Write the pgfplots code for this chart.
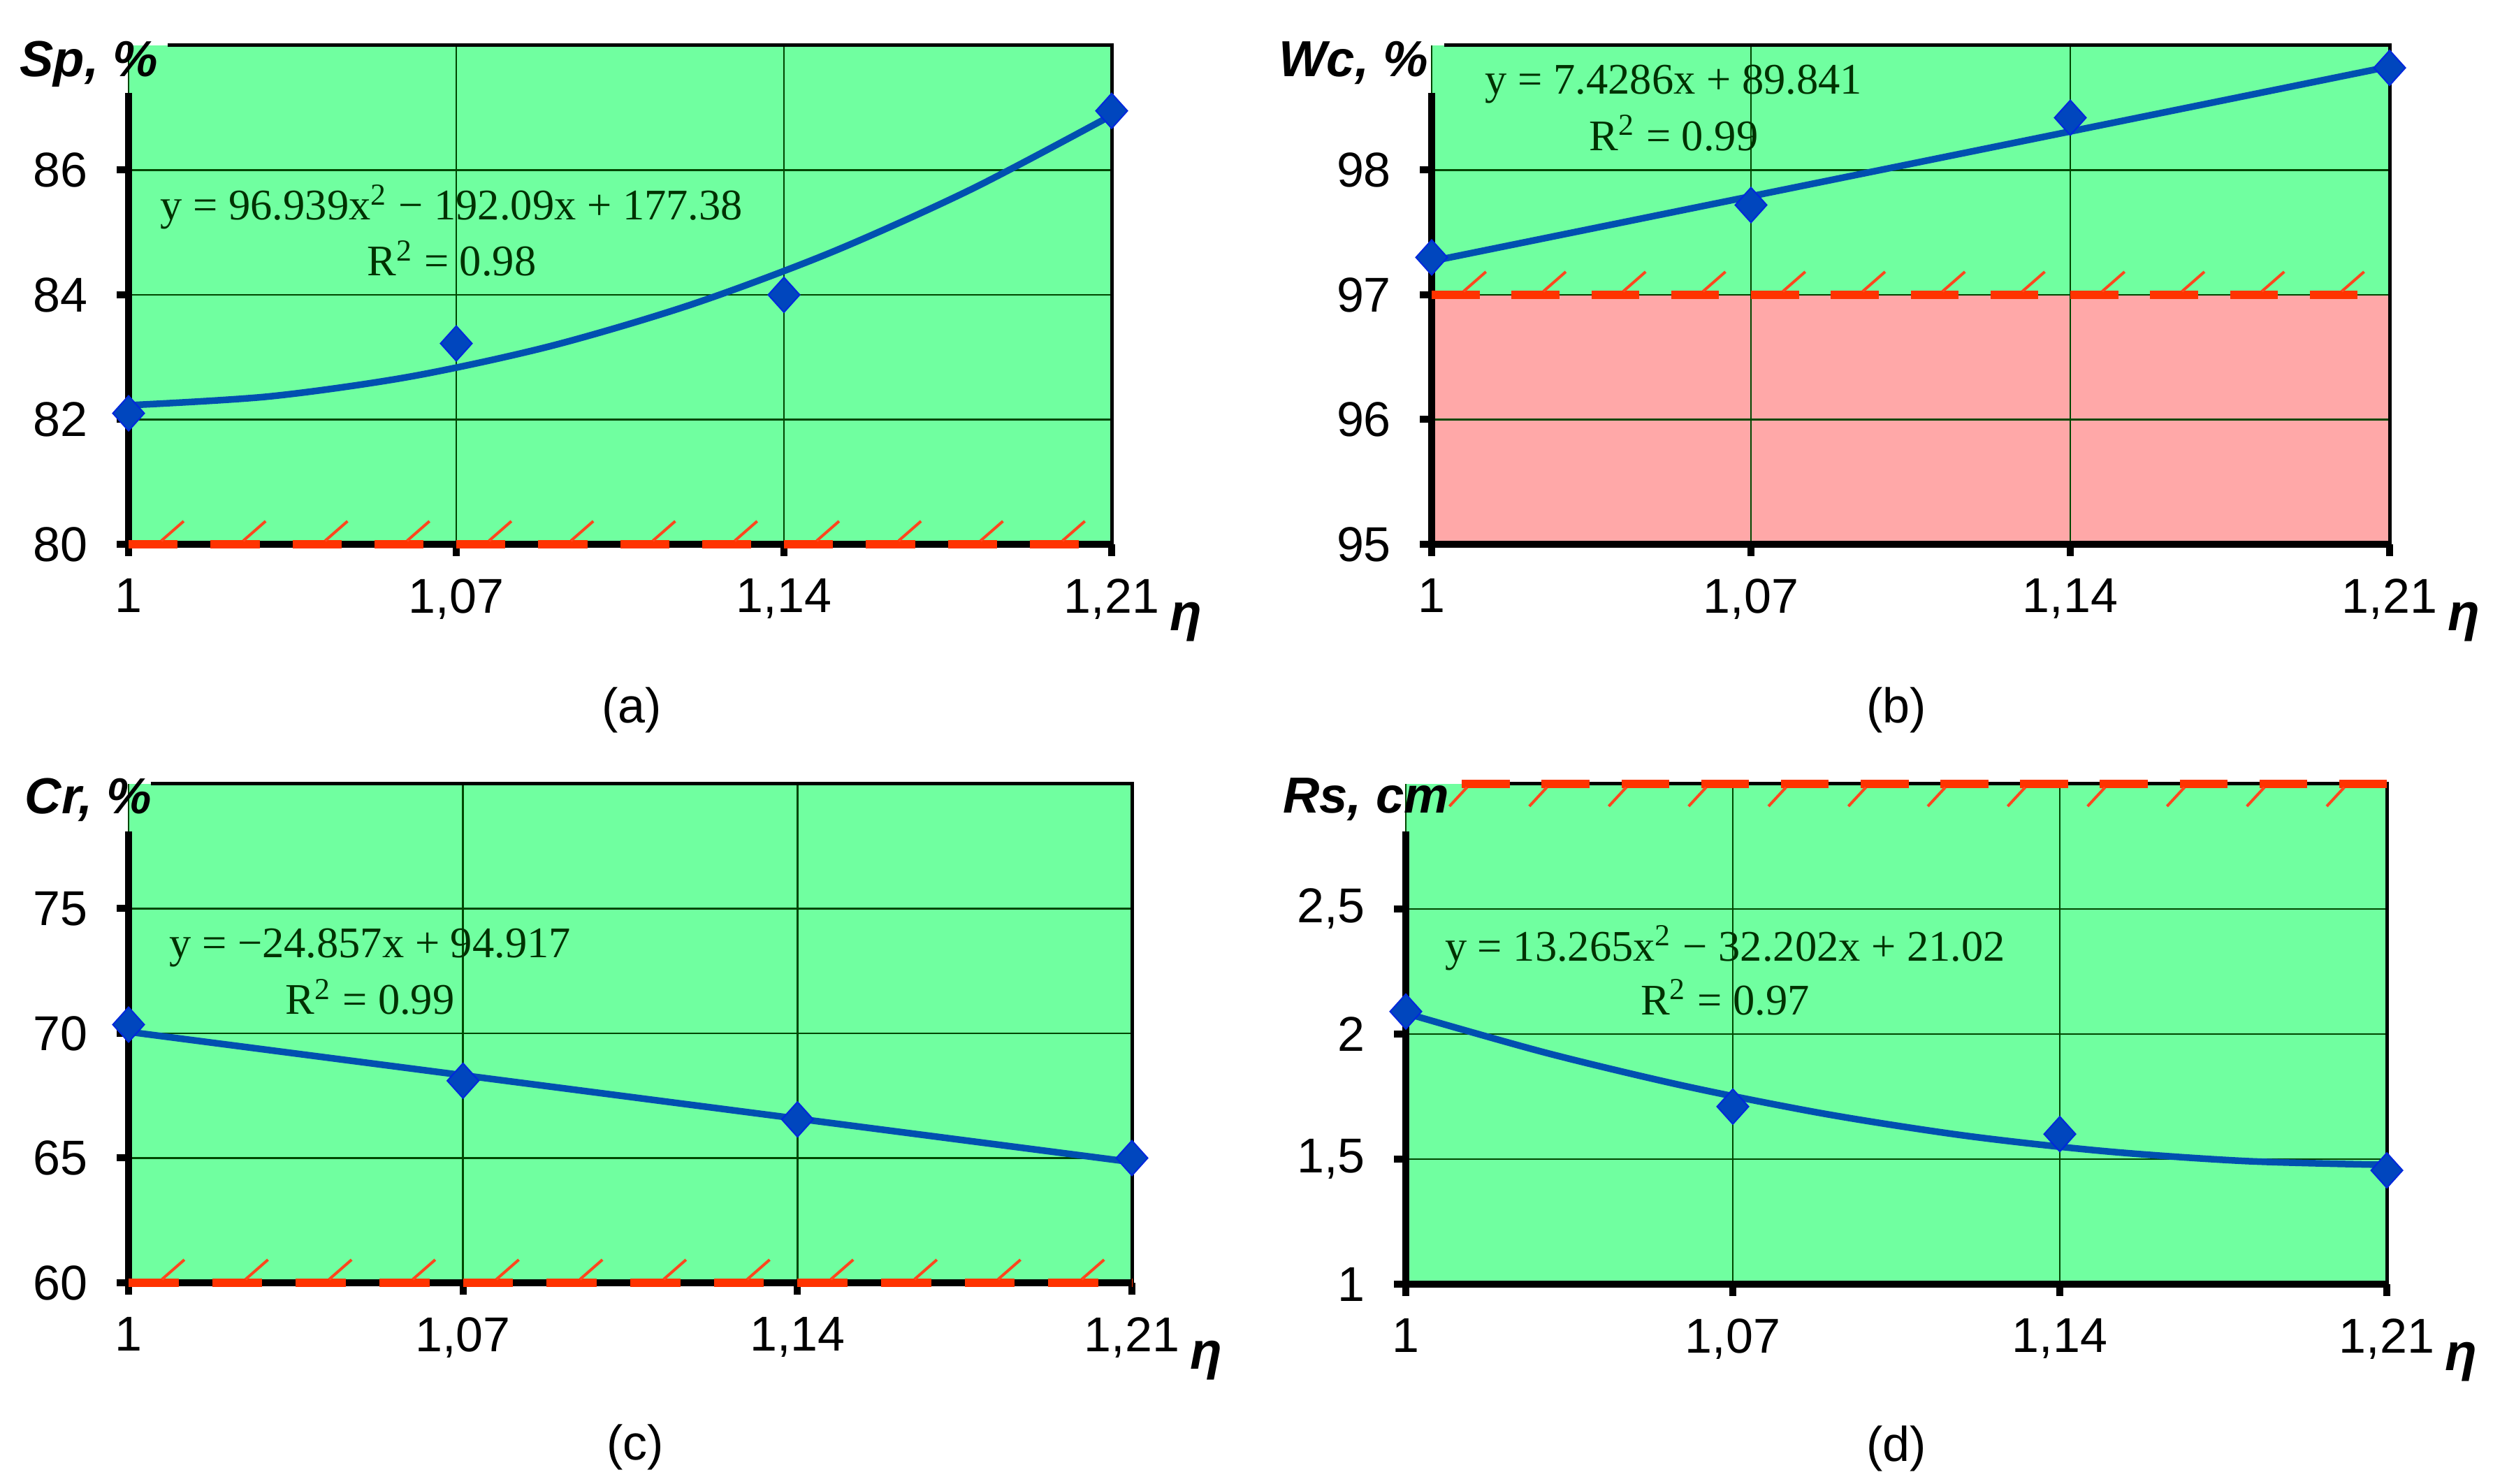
\documentclass[border=0pt]{standalone}
\usepackage{fontspec}
\setmainfont{Liberation Sans}
\newfontfamily\eqfont{Liberation Serif}
\usepackage{pgfplots}
\pgfplotsset{compat=1.18}

\definecolor{bggreen}{RGB}{112,255,160}
\definecolor{pinkc}{RGB}{255,168,168}
\definecolor{redc}{RGB}{255,51,0}
\definecolor{hatchc}{RGB}{255,70,30}
\definecolor{gridg}{RGB}{0,70,0}
\definecolor{eqg}{RGB}{0,50,0}
\definecolor{trendc}{RGB}{0,80,176}
\definecolor{markc}{RGB}{0,70,190}
\definecolor{markd}{RGB}{0,40,220}

\pgfdeclareplotmark{hatchup}{%
  \pgfpathmoveto{\pgfqpoint{0pt}{1pt}}%
  \pgfpathlineto{\pgfqpoint{6.4pt}{6.6pt}}%
  \pgfusepathqstroke}
\pgfdeclareplotmark{hatchdown}{%
  \pgfpathmoveto{\pgfqpoint{0.5pt}{-1pt}}%
  \pgfpathlineto{\pgfqpoint{-4.5pt}{-6.4pt}}%
  \pgfusepathqstroke}

\pgfplotsset{
  panel/.style={
    scale only axis, set layers, clip=false, anchor=south west,
    xmin=1, xmax=1.21,
    xtick={1,1.07,1.14,1.21},
    xticklabels={1,{1,07},{1,14},{1,21}},
    axis background/.style={fill=bggreen},
    grid=major,
    major grid style={gridg, line width=0.55pt},
    axis line style={draw=none},
    tick align=outside, xtick pos=bottom, ytick pos=left,
    major tick length=3.4pt,
    tick style={black, line width=2pt},
    tick label style={font=\fontsize{14}{16}\selectfont},
    xticklabel style={yshift=-3pt},
    yticklabel style={xshift=-4.7pt},
  },
  trend/.style={trendc, line width=1.9pt, smooth},
  pts/.style={only marks, mark=diamond*, mark size=5pt,
    mark options={fill=markc, draw=markd, line width=0.4pt, xscale=1.2}},
  hatch/.style={only marks, mark=#1, mark options={draw=hatchc, line width=0.8pt}},
  redline/.style={redc, line width=2.5pt},
}
\tikzset{
  eq/.style={font=\eqfont\fontsize{12.5}{14}\selectfont, text=eqg, inner sep=0pt},
  ylab/.style={font=\fontsize{14.5}{16}\selectfont\bfseries\itshape, anchor=base east, inner sep=0pt},
  etalab/.style={font=\fontsize{15}{16}\selectfont\bfseries\itshape, anchor=base west, inner sep=0pt},
  caplab/.style={font=\fontsize{14}{16}\selectfont, inner sep=0pt},
  frame/.style={line width=1.0pt, black},
  thick frame/.style={line width=2pt, black},
}

\begin{document}
\begin{tikzpicture}

% ---------------- (a) ----------------
\begin{axis}[panel, at={(36.8pt,269pt)}, width=281.4pt, height=142.8pt,
  ymin=80, ymax=88, ytick={80,82,84,86}, yticklabels={80,82,84,86}]
\draw[frame] (rel axis cs:0.04,1) -- (rel axis cs:1,1) -- (rel axis cs:1,0);
\draw[thick frame] (rel axis cs:0,0.905) -- (rel axis cs:0,0) -- (rel axis cs:1,0);
\addplot[redline, dash pattern=on 14.07pt off 9.38pt] coordinates {(1,80) (1.21,80)};
\addplot[hatch=hatchup] coordinates {(1.007,80) (1.0245,80) (1.042,80) (1.0595,80) (1.077,80) (1.0945,80) (1.112,80) (1.1295,80) (1.147,80) (1.1645,80) (1.182,80) (1.1995,80)};
\addplot[trend] coordinates {(1,82.229) (1.03,82.370) (1.06,82.686) (1.09,83.175) (1.12,83.839) (1.15,84.678) (1.18,85.692) (1.21,86.879)};
\addplot[pts] coordinates {(1,82.1) (1.07,83.22) (1.14,84.0) (1.21,86.95)};
\node[eq] at (rel axis cs:0.3286,0.676) {y = 96.939x\textsuperscript{2} − 192.09x + 177.38};
\node[eq] at (rel axis cs:0.3286,0.573) {R\textsuperscript{2} = 0.98};
\node[ylab, xshift=8.6pt, yshift=-9pt] at (rel axis cs:0,1) {Sp, \%};
\node[etalab, xshift=16.4pt, yshift=-24.8pt] at (rel axis cs:1,0) {η};
\node[caplab, yshift=-47.4pt] at (rel axis cs:0.512,0) {(a)};
\end{axis}

% ---------------- (b) ----------------
\begin{axis}[panel, at={(409.8pt,269pt)}, width=274.2pt, height=142.8pt,
  ymin=95, ymax=99, ytick={95,96,97,98}, yticklabels={95,96,97,98}]
\addplot[on layer=axis background, fill=pinkc, draw=none] coordinates {(1,95) (1,97) (1.21,97) (1.21,95)} -- cycle;
\draw[frame] (rel axis cs:0.013,1) -- (rel axis cs:1,1) -- (rel axis cs:1,0);
\draw[thick frame] (rel axis cs:0,0.905) -- (rel axis cs:0,0) -- (rel axis cs:1,0);
\addplot[redline, dash pattern=on 13.71pt off 9.14pt] coordinates {(1,97) (1.21,97)};
\addplot[hatch=hatchup] coordinates {(1.007,97) (1.0245,97) (1.042,97) (1.0595,97) (1.077,97) (1.0945,97) (1.112,97) (1.1295,97) (1.147,97) (1.1645,97) (1.182,97) (1.1995,97)};
\addplot[trend] coordinates {(1,97.270) (1.21,98.830)};
\addplot[pts] coordinates {(1,97.3) (1.07,97.72) (1.14,98.42) (1.21,98.82)};
\node[eq] at (rel axis cs:0.2526,0.9225) {y = 7.4286x + 89.841};
\node[eq] at (rel axis cs:0.2526,0.824) {R\textsuperscript{2} = 0.99};
\node[ylab, xshift=-0.8pt, yshift=-9pt] at (rel axis cs:0,1) {Wc, \%};
\node[etalab, xshift=16.4pt, yshift=-24.8pt] at (rel axis cs:1,0) {η};
\node[caplab, yshift=-47.4pt] at (rel axis cs:0.485,0) {(b)};
\end{axis}

% ---------------- (c) ----------------
\begin{axis}[panel, at={(36.8pt,57.6pt)}, width=287.2pt, height=142.8pt,
  ymin=60, ymax=80, ytick={60,65,70,75}, yticklabels={60,65,70,75}]
\draw[frame] (rel axis cs:0.022,1) -- (rel axis cs:1,1) -- (rel axis cs:1,0);
\draw[thick frame] (rel axis cs:0,0.905) -- (rel axis cs:0,0) -- (rel axis cs:1,0);
\addplot[redline, dash pattern=on 14.36pt off 9.57pt] coordinates {(1,60) (1.21,60)};
\addplot[hatch=hatchup] coordinates {(1.007,60) (1.0245,60) (1.042,60) (1.0595,60) (1.077,60) (1.0945,60) (1.112,60) (1.1295,60) (1.147,60) (1.1645,60) (1.182,60) (1.1995,60)};
\addplot[trend] coordinates {(1,70.060) (1.21,64.840)};
\addplot[pts] coordinates {(1,70.35) (1.07,68.1) (1.14,66.55) (1.21,65.0)};
\node[eq] at (rel axis cs:0.2406,0.672) {y = −24.857x + 94.917};
\node[eq] at (rel axis cs:0.2406,0.573) {R\textsuperscript{2} = 0.99};
\node[ylab, xshift=6.8pt, yshift=-8.6pt] at (rel axis cs:0,1) {Cr, \%};
\node[etalab, xshift=16.4pt, yshift=-24.8pt] at (rel axis cs:1,0) {η};
\node[caplab, yshift=-47pt] at (rel axis cs:0.505,0) {(c)};
\end{axis}

% ---------------- (d) ----------------
\begin{axis}[panel, at={(402.4pt,57.2pt)}, width=280.8pt, height=143.2pt,
  ymin=1, ymax=3, ytick={1,1.5,2,2.5}, yticklabels={1,{1,5},2,{2,5}}]
\draw[frame] (rel axis cs:0.057,1) -- (rel axis cs:1,1) -- (rel axis cs:1,0);
\draw[thick frame] (rel axis cs:0,0.905) -- (rel axis cs:0,0) -- (rel axis cs:1,0);
\addplot[redline, dash pattern=on 13.7pt off 9.13pt] coordinates {(1.012,3) (1.21,3)};
\addplot[hatch=hatchdown] coordinates {(1.0127,3) (1.0298,3) (1.0468,3) (1.0639,3) (1.0810,3) (1.0981,3) (1.1151,3) (1.1322,3) (1.1493,3) (1.1663,3) (1.1834,3) (1.2005,3)};
\addplot[trend] coordinates {(1,2.083) (1.03,1.925) (1.06,1.791) (1.09,1.680) (1.12,1.593) (1.15,1.531) (1.18,1.492) (1.21,1.477)};
\addplot[pts] coordinates {(1,2.09) (1.07,1.71) (1.14,1.60) (1.21,1.455)};
\node[eq] at (rel axis cs:0.3255,0.672) {y = 13.265x\textsuperscript{2} − 32.202x + 21.02};
\node[eq] at (rel axis cs:0.3255,0.573) {R\textsuperscript{2} = 0.97};
\node[ylab, xshift=12.6pt, yshift=-8.4pt] at (rel axis cs:0,1) {Rs, cm};
\node[etalab, xshift=16.4pt, yshift=-24.8pt] at (rel axis cs:1,0) {η};
\node[caplab, yshift=-47pt] at (rel axis cs:0.5,0) {(d)};
\end{axis}

\path (0,0) rectangle (713.6pt,424.8pt);
\end{tikzpicture}
\end{document}
